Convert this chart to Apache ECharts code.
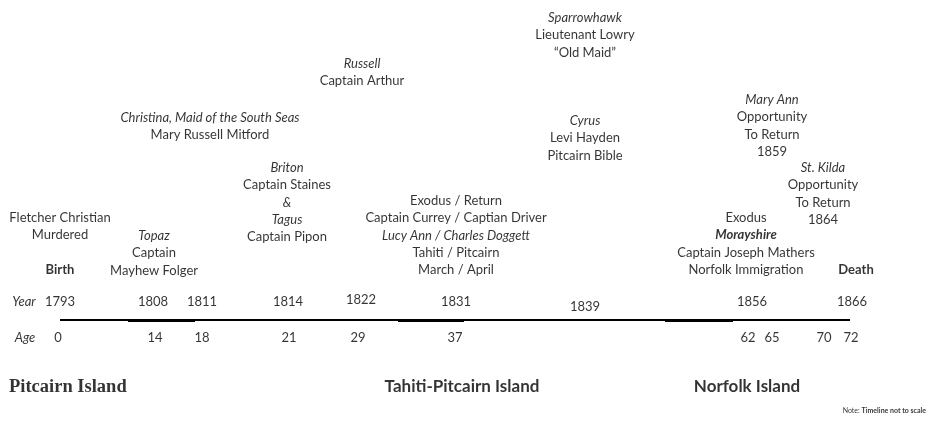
<!DOCTYPE html>
<html>
<head>
<meta charset="utf-8">
<script src="https://cdn.jsdelivr.net/npm/echarts@6/dist/echarts.min.js"></script>
<style>
  html, body { margin: 0; padding: 0; background: #fff; }
  #chart { width: 928px; height: 422px; }
</style>
</head>
<body>
<div id="chart"></div>
<script>
// timeline is not to scale: each year gets its own slot on the line
var years = ['1793', '1808', '1811', '1814', '1822', '1831', '1839', '1856', '1866'];
var yearSlot = [60, 153, 202, 288, 361, 456, 585, 752, 852];
var yearNudge = [0, 0, 0, 0, -2, 0, 5, 0, 0];

var ages = ['0', '14', '18', '21', '29', '37', '62', '65', '70', '72'];
var ageSlot = [58, 155, 202, 289, 358, 455, 748, 772, 824, 851];

// timeline pieces (start, end, heavy?)
var lineStart = [60, 128, 195, 398, 464, 665, 733];
var lineEnd = [128, 195, 398, 464, 665, 733, 850];
var lineHeavy = [0, 1, 0, 1, 0, 1, 0];

// event notes: slot x, first line y, lines (text, style)
var events = [
  [585, 18, [['Sparrowhawk', 'i'], ['Lieutenant Lowry', 'n'], ['\u201cOld Maid\u201d', 'n']]],
  [362, 64, [['Russell', 'i'], ['Captain Arthur', 'n']]],
  [210, 118, [['Christina, Maid of the South Seas', 'i'], ['Mary Russell Mitford', 'n']]],
  [772, 100, [['Mary Ann', 'i'], ['Opportunity', 'n'], ['To Return', 'n'], ['1859', 'n']]],
  [585, 121, [['Cyrus', 'i'], ['Levi Hayden', 'n'], ['Pitcairn Bible', 'n']]],
  [287, 168, [['Briton', 'i'], ['Captain Staines', 'n'], ['&', 'i'], ['Tagus', 'i'], ['Captain Pipon', 'n']]],
  [823, 168, [['St. Kilda', 'i'], ['Opportunity', 'n'], ['To Return', 'n'], ['1864', 'n']]],
  [456, 201, [['Exodus / Return', 'n'], ['Captain Currey / Captian Driver', 'n'], ['Lucy Ann / Charles Doggett', 'i'], ['Tahiti / Pitcairn', 'n'], ['March / April', 'n']]],
  [746, 218, [['Exodus', 'n'], ['Morayshire', 'bi'], ['Captain Joseph Mathers', 'n'], ['Norfolk Immigration', 'n']]],
  [60, 218, [['Fletcher Christian', 'n'], ['Murdered', 'n']]],
  [60, 270, [['Birth', 'b']]],
  [154, 236, [['Topaz', 'i'], ['Captain', 'n'], ['Mayhew Folger', 'n']]],
  [856, 270, [['Death', 'b']]]
];

var places = ['Pitcairn Island', 'Tahiti-Pitcairn Island', 'Norfolk Island'];
var placeSlot = [9, 462, 747];
var placeAlign = ['left', 'center', 'center'];
var placeFont = ['Liberation Serif', 'Lato', 'Lato'];
var placeSize = [18.5, 17, 17];

var FONT = 'Lato';
var LINE_H = 17.2;
var YEAR_Y = 302, AGE_Y = 338, LINE_Y = 320;

function txt(x, y, text, style, extra) {
  var lab = {
    show: true,
    position: 'inside',
    formatter: text,
    color: '#000',
    fontFamily: FONT,
    fontSize: 13,
    fontStyle: style.indexOf('i') >= 0 ? 'italic' : 'normal',
    fontWeight: style.indexOf('b') >= 0 ? 'bold' : 'normal',
    align: 'center',
    verticalAlign: 'middle'
  };
  if (extra) for (var k in extra) lab[k] = extra[k];
  return { value: [x, y], label: lab };
}

var texts = [];
events.forEach(function (ev) {
  ev[2].forEach(function (ln, i) {
    texts.push(txt(ev[0], ev[1] + i * LINE_H, ln[0], ln[1]));
  });
});
texts.push(txt(24, YEAR_Y, 'Year', 'i'));
texts.push(txt(25, AGE_Y, 'Age', 'i'));
years.forEach(function (y, i) {
  texts.push(txt(yearSlot[i], YEAR_Y + yearNudge[i], y, 'n'));
});
ages.forEach(function (a, i) {
  texts.push(txt(ageSlot[i], AGE_Y, a, 'n'));
});
places.forEach(function (p, i) {
  texts.push(txt(placeSlot[i], 387, p, 'b', {
    fontSize: placeSize[i], fontFamily: placeFont[i], align: placeAlign[i]
  }));
});
texts.push(txt(926, 411, '{a|Note: }{b|Timeline not to scale}', 'n', {
  align: 'right',
  fontSize: 7,
  rich: {
    a: { fontFamily: FONT, fontSize: 7, color: '#000' },
    b: { fontFamily: FONT, fontSize: 7, fontWeight: 'bold', color: '#000' }
  }
}));

// heavy pieces sit half a pixel lower so a 3px stroke stays crisp
var lineSeries = lineStart.map(function (s, i) {
  var y = lineHeavy[i] ? LINE_Y + 0.5 : LINE_Y;
  return {
    type: 'line',
    silent: true,
    symbol: 'none',
    data: [[s, y], [lineEnd[i], y]],
    lineStyle: { color: '#000', width: lineHeavy[i] ? 3 : 2 },
    z: 1
  };
});

var chart = echarts.init(document.getElementById('chart'), null, { renderer: 'canvas' });
chart.setOption({
  backgroundColor: '#fff',
  animation: false,
  grid: { left: 0, right: 0, top: 0, bottom: 0 },
  xAxis: { type: 'value', min: 0, max: 928, show: false },
  yAxis: { type: 'value', min: 0, max: 422, inverse: true, show: false },
  series: lineSeries.concat([{
    type: 'scatter',
    silent: true,
    symbolSize: 0,
    data: texts,
    z: 2
  }])
});
</script>
</body>
</html>
